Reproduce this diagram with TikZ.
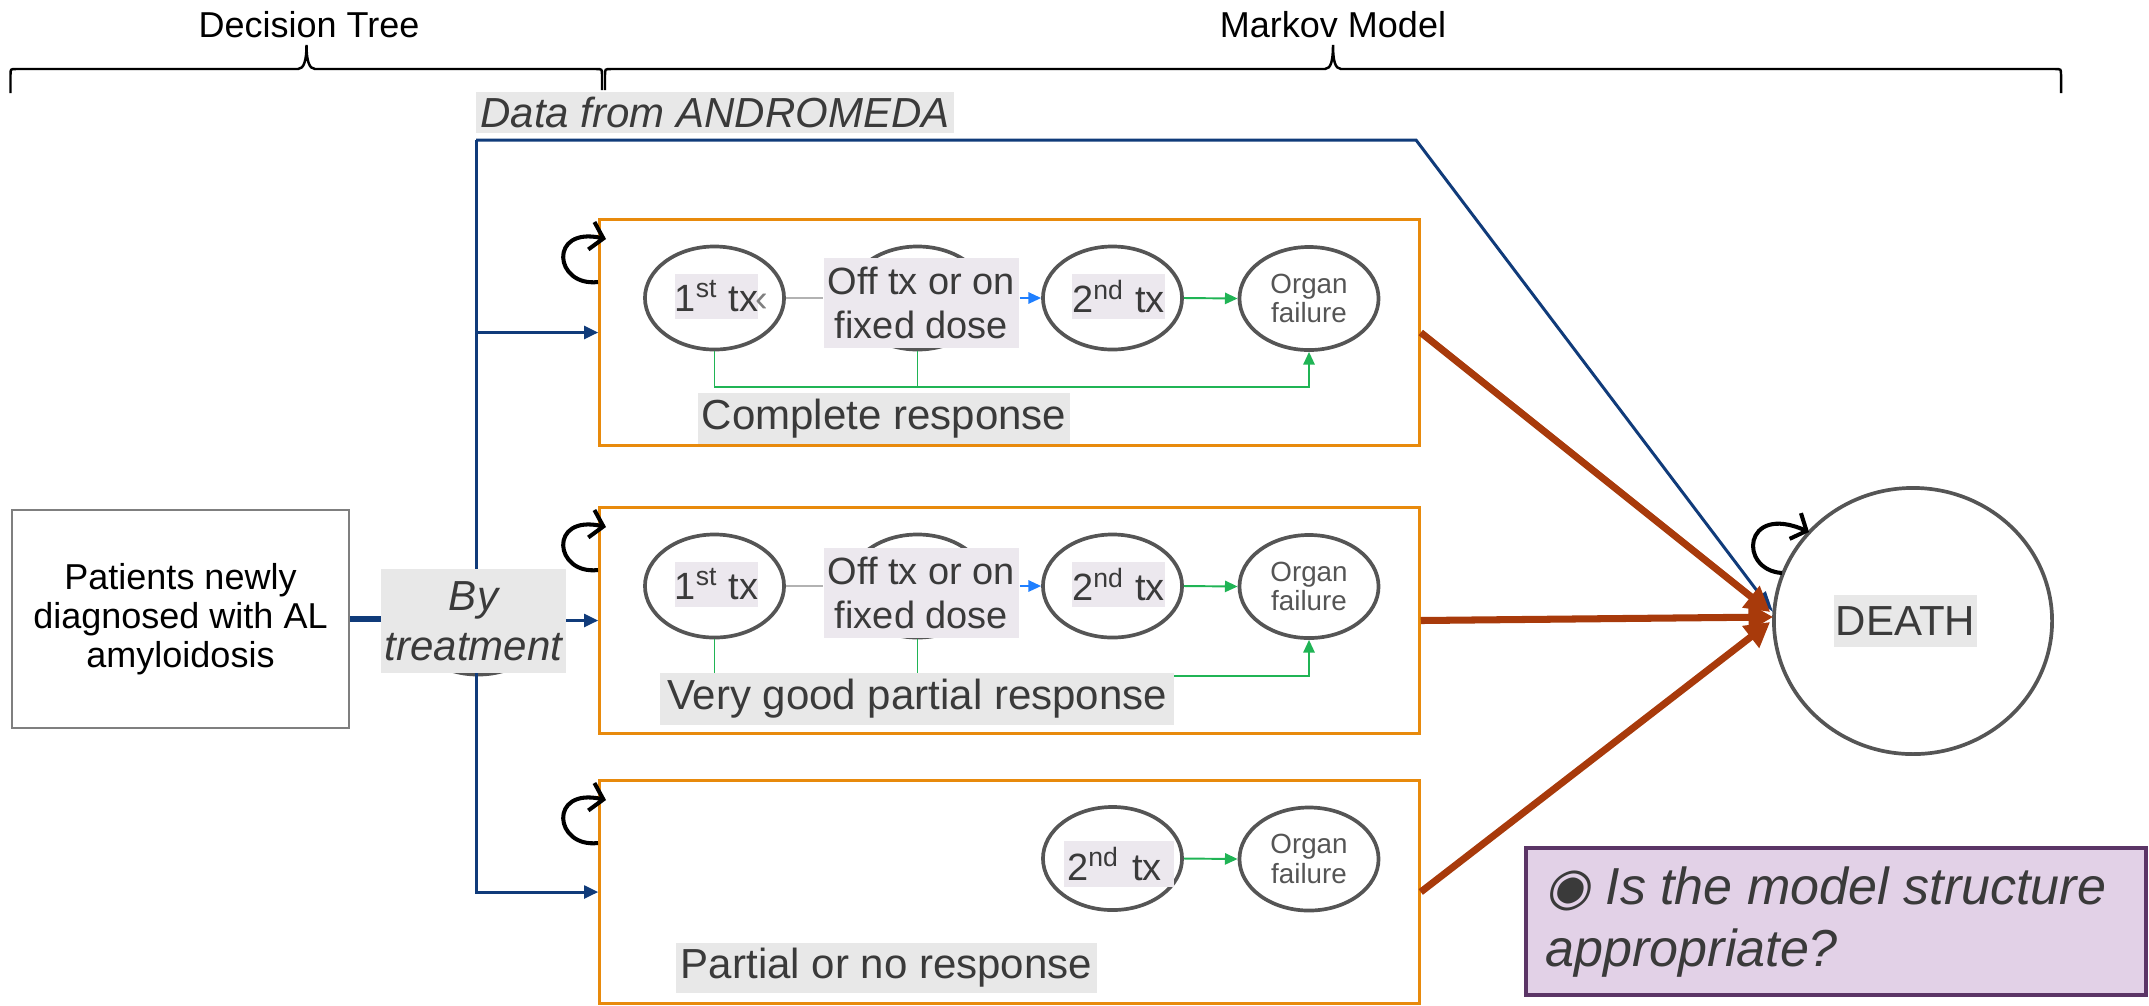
\documentclass[tikz,border=0pt]{standalone}
\usepackage{fontspec}
\setmainfont{Liberation Sans}
\newfontfamily\symfont[FakeSlant=0.2]{DejaVu Sans}
\usetikzlibrary{arrows.meta,shapes.geometric,calc}
\definecolor{orng}{HTML}{E88A0C}
\definecolor{navy}{HTML}{103B7A}
\definecolor{rust}{HTML}{A83A0B}
\definecolor{grn}{HTML}{20B455}
\definecolor{bblue}{HTML}{1F7FFF}
\definecolor{cgray}{HTML}{555555}
\definecolor{tdark}{HTML}{3A3A3A}
\definecolor{lgray}{HTML}{E8E8E8}
\definecolor{lav}{HTML}{ECE8EE}
\definecolor{purp}{HTML}{5B3566}
\definecolor{lilac}{HTML}{E2D1E7}
\definecolor{pgray}{HTML}{7F7F7F}
\newcommand\fsz[2]{\fontsize{#1}{#2}\selectfont}
\begin{document}
\begin{tikzpicture}[x=0.01cm,y=-0.01cm,
  obox/.style={draw=orng,line width=0.85pt,rectangle,inner sep=0,minimum width=8.19cm},
  st/.style={ellipse,draw=cgray,line width=1.05pt,minimum width=1.39cm,minimum height=1.03cm,inner sep=0},
  organ/.style={st,align=center,text=cgray,font=\fsz{7.9pt}{8.3pt}},
  txl/.style={fill=lav,inner sep=0,minimum height=0.45cm,text=tdark,font=\fsz{10.8pt}{12.5pt}},
  resp/.style={fill=lgray,inner sep=0,text=tdark,font=\fsz{11.95pt}{14pt}},
  gline/.style={draw=grn,line width=0.55pt},
  gtip/.style={-{Triangle[length=3.6pt,width=3.2pt]}},
  nline/.style={draw=navy,line width=0.85pt},
  ntip/.style={-{Triangle[length=4pt,width=3.6pt]}},
  rarr/.style={draw=rust,line width=2pt,-{Triangle[length=7pt,width=7.5pt]}},
  selfloop/.style={draw=black,line width=1.15pt,-{Straight Barb[length=3.5pt,width=8pt]}},
  brace/.style={draw=black,line width=0.7pt},
  hdr/.style={font=\fsz{10.24pt}{12pt},text=black}
]
\useasboundingbox (0,0) rectangle (2149,1005);

% braces and headers
\draw[brace] (10.5,93) -- (10.5,75) .. controls (10.5,69) .. (16,69) -- (298,69)
  .. controls (304,69) and (306.5,60) .. (306.5,45)
  .. controls (306.5,60) and (309,69) .. (315,69) -- (596,69)
  .. controls (602,69) .. (602,75) -- (602,90);
\draw[brace] (605,90) -- (605,75) .. controls (605,69) .. (611,69) -- (1325,69)
  .. controls (1331,69) and (1333,60) .. (1333,45)
  .. controls (1333,60) and (1335,69) .. (1341,69) -- (2055,69)
  .. controls (2061,69) .. (2061,75) -- (2061,93);
\node[hdr] (hdt) at (309,25) {Decision Tree};
\node[hdr] (hmm) at (1333,25) {Markov Model};

% boxes
\node[obox,minimum height=2.25cm] (b1) at (1009.5,332.5) {};
\node[obox,minimum height=2.25cm] (b2) at (1009.5,620.5) {};
\node[obox,minimum height=2.22cm] (b3) at (1009.5,892) {};

% self loops on boxes
\foreach \t in {220,508,781}{
  \draw[selfloop] (598,\t+62) .. controls (554,\t+67) and (548,\t+6) .. (606,\t+19);
}

% patients box and branching
\node[draw=pgray,line width=0.6pt,minimum width=3.37cm,minimum height=2.18cm,inner sep=0,
  align=center,font=\fsz{10.24pt}{11.1pt},text=black] (pat) at (180.5,619)
  {Patients newly\\diagnosed with AL\\amyloidosis};
\coordinate (tl) at (476,140);
\coordinate (tr) at (1416,140);
\node[st] (ghost) at (478,623) {};
\draw[nline] (tl) -- (b1.west -| tl);
\draw[nline] (b1.west -| tl) -- (b2.west -| tl);
\draw[nline,ntip] (b2.west -| tl) -- (b3.west -| tl) -- (b3.west);
\draw[nline,ntip] (b1.west -| tl) -- (b1.west);
\draw[nline,ntip] (b2.west -| tl) -- (b2.west);
\draw[draw=navy,line width=1.8pt] (pat.east) -- (pat.east -| tl);
\node[fill=lgray,inner sep=0,minimum width=1.85cm,minimum height=1.04cm,align=center,
  font=\fsz{11.95pt}{14.2pt}\itshape,text=tdark] (byt) at (473.5,621) {By\\treatment};

% Andromeda
\node[fill=lgray,inner sep=0,minimum width=4.78cm,minimum height=0.41cm,
  font=\fsz{11.95pt}{14pt}\itshape,text=tdark] (andr) at (715,112.5) {Data from ANDROMEDA};

% DEATH
\node[ellipse,draw=cgray,line width=1.05pt,minimum width=2.78cm,minimum height=2.66cm,inner sep=0] (death) at (1913,621) {};
\node[fill=lgray,inner sep=0,minimum width=1.43cm,minimum height=0.52cm,
  font=\fsz{11.95pt}{14pt},text=tdark] (dlab) at (1905.5,621) {DEATH};
\draw[selfloop] (1782,573) .. controls (1738,570) and (1743,503) .. (1809,532);
\draw[nline,-{Triangle[length=6pt,width=3.6pt]}] (tl) -- (tr) -- ($(death.west)+(1,-9)$);
\draw[rarr] (b1.east) -- ($(death.west)+(-2,-9)$);
\draw[rarr] (b2.east) -- ($(death.west)+(1,-4)$);
\draw[rarr] (b3.east) -- ($(death.west)+(-2,1)$);

% ---- box 1 ----
\node[st] (a1) at (714.5,298) {};
\node[st] (o1) at (917.5,298) {};
\node[st] (s1) at (1112.5,298) {};
\node[organ] (f1) at (1309,298.5) {Organ\\failure};
\coordinate (h1) at (0,387);
\draw[gline,gtip] (a1.south) |- (f1.south |- h1) -- (f1.south);
\draw[gline] (o1.south) -- (o1.south |- h1);
\node[txl,minimum width=0.81cm] (l1) at (716.5,296.5) {1\textsuperscript{st} tx};
\node[inner sep=0,anchor=base west,text=pgray,font=\fsz{10.8pt}{12.5pt}] (l1x) at ($(l1.base east)+(-4,0)$) {‹};
\node[txl,minimum width=1.95cm,minimum height=0.9cm,align=center] (m1) at (921.5,303) {Off tx or on\\fixed dose};
\node[txl,minimum width=0.89cm] (n1) at (1118.5,296.5) {2\textsuperscript{nd} tx};
\draw[draw=gray!60,line width=0.55pt] (a1.east) -- (a1.east -| m1.west);
\draw[draw=bblue,line width=0.55pt,gtip] (m1.east |- s1.west) -- (s1.west);
\draw[gline,gtip] (s1.east) -- (f1.west);
\node[resp,minimum width=3.71cm,minimum height=0.51cm] (r1) at (884,418.5) {Complete response};

% ---- box 2 ----
\node[st] (a2) at (714.5,586) {};
\node[st] (o2) at (917.5,586) {};
\node[st] (s2) at (1112.5,586) {};
\node[organ] (f2) at (1309,586.5) {Organ\\failure};
\coordinate (h2) at (0,676);
\draw[gline,gtip] (a2.south) |- (f2.south |- h2) -- (f2.south);
\draw[gline] (o2.south) -- (o2.south |- h2);
\node[txl,minimum width=0.81cm] (l2) at (716.5,584.5) {1\textsuperscript{st} tx};
\node[txl,minimum width=1.95cm,minimum height=0.9cm,align=center] (m2) at (921.5,593) {Off tx or on\\fixed dose};
\node[txl,minimum width=0.89cm] (n2) at (1118.5,584.5) {2\textsuperscript{nd} tx};
\draw[draw=gray!60,line width=0.55pt] (a2.east) -- (a2.east -| m2.west);
\draw[draw=bblue,line width=0.55pt,gtip] (m2.east |- s2.west) -- (s2.west);
\draw[gline,gtip] (s2.east) -- (f2.west);
\node[resp,minimum width=5.14cm,minimum height=0.52cm] (r2) at (917,699) {Very good partial response};

% ---- box 3 ----
\node[st] (s3) at (1112.5,858.5) {};
\node[organ] (f3) at (1309,859) {Organ\\failure};
\node[txl,anchor=west,minimum height=0.46cm,inner xsep=0.03cm,text width=1.04cm,align=left] (n3) at (1063.5,864) {2\textsuperscript{nd} tx};
\draw[gline,gtip] (s3.east) -- (f3.west);
\node[resp,minimum width=4.21cm,minimum height=0.5cm] (r3) at (886.5,968) {Partial or no response};

% question box
\node[draw=purp,fill=lilac,line width=1.1pt,minimum width=6.2cm,minimum height=1.47cm,inner sep=0] (q) at (1836,921.5) {};
\node[anchor=west,align=left,inner sep=0,font=\fsz{14.8pt}{17.4pt}\itshape,text=tdark] (qt) at (1545,922)
  {{\symfont ◉} Is the model structure\\appropriate?};
\end{tikzpicture}
\end{document}
